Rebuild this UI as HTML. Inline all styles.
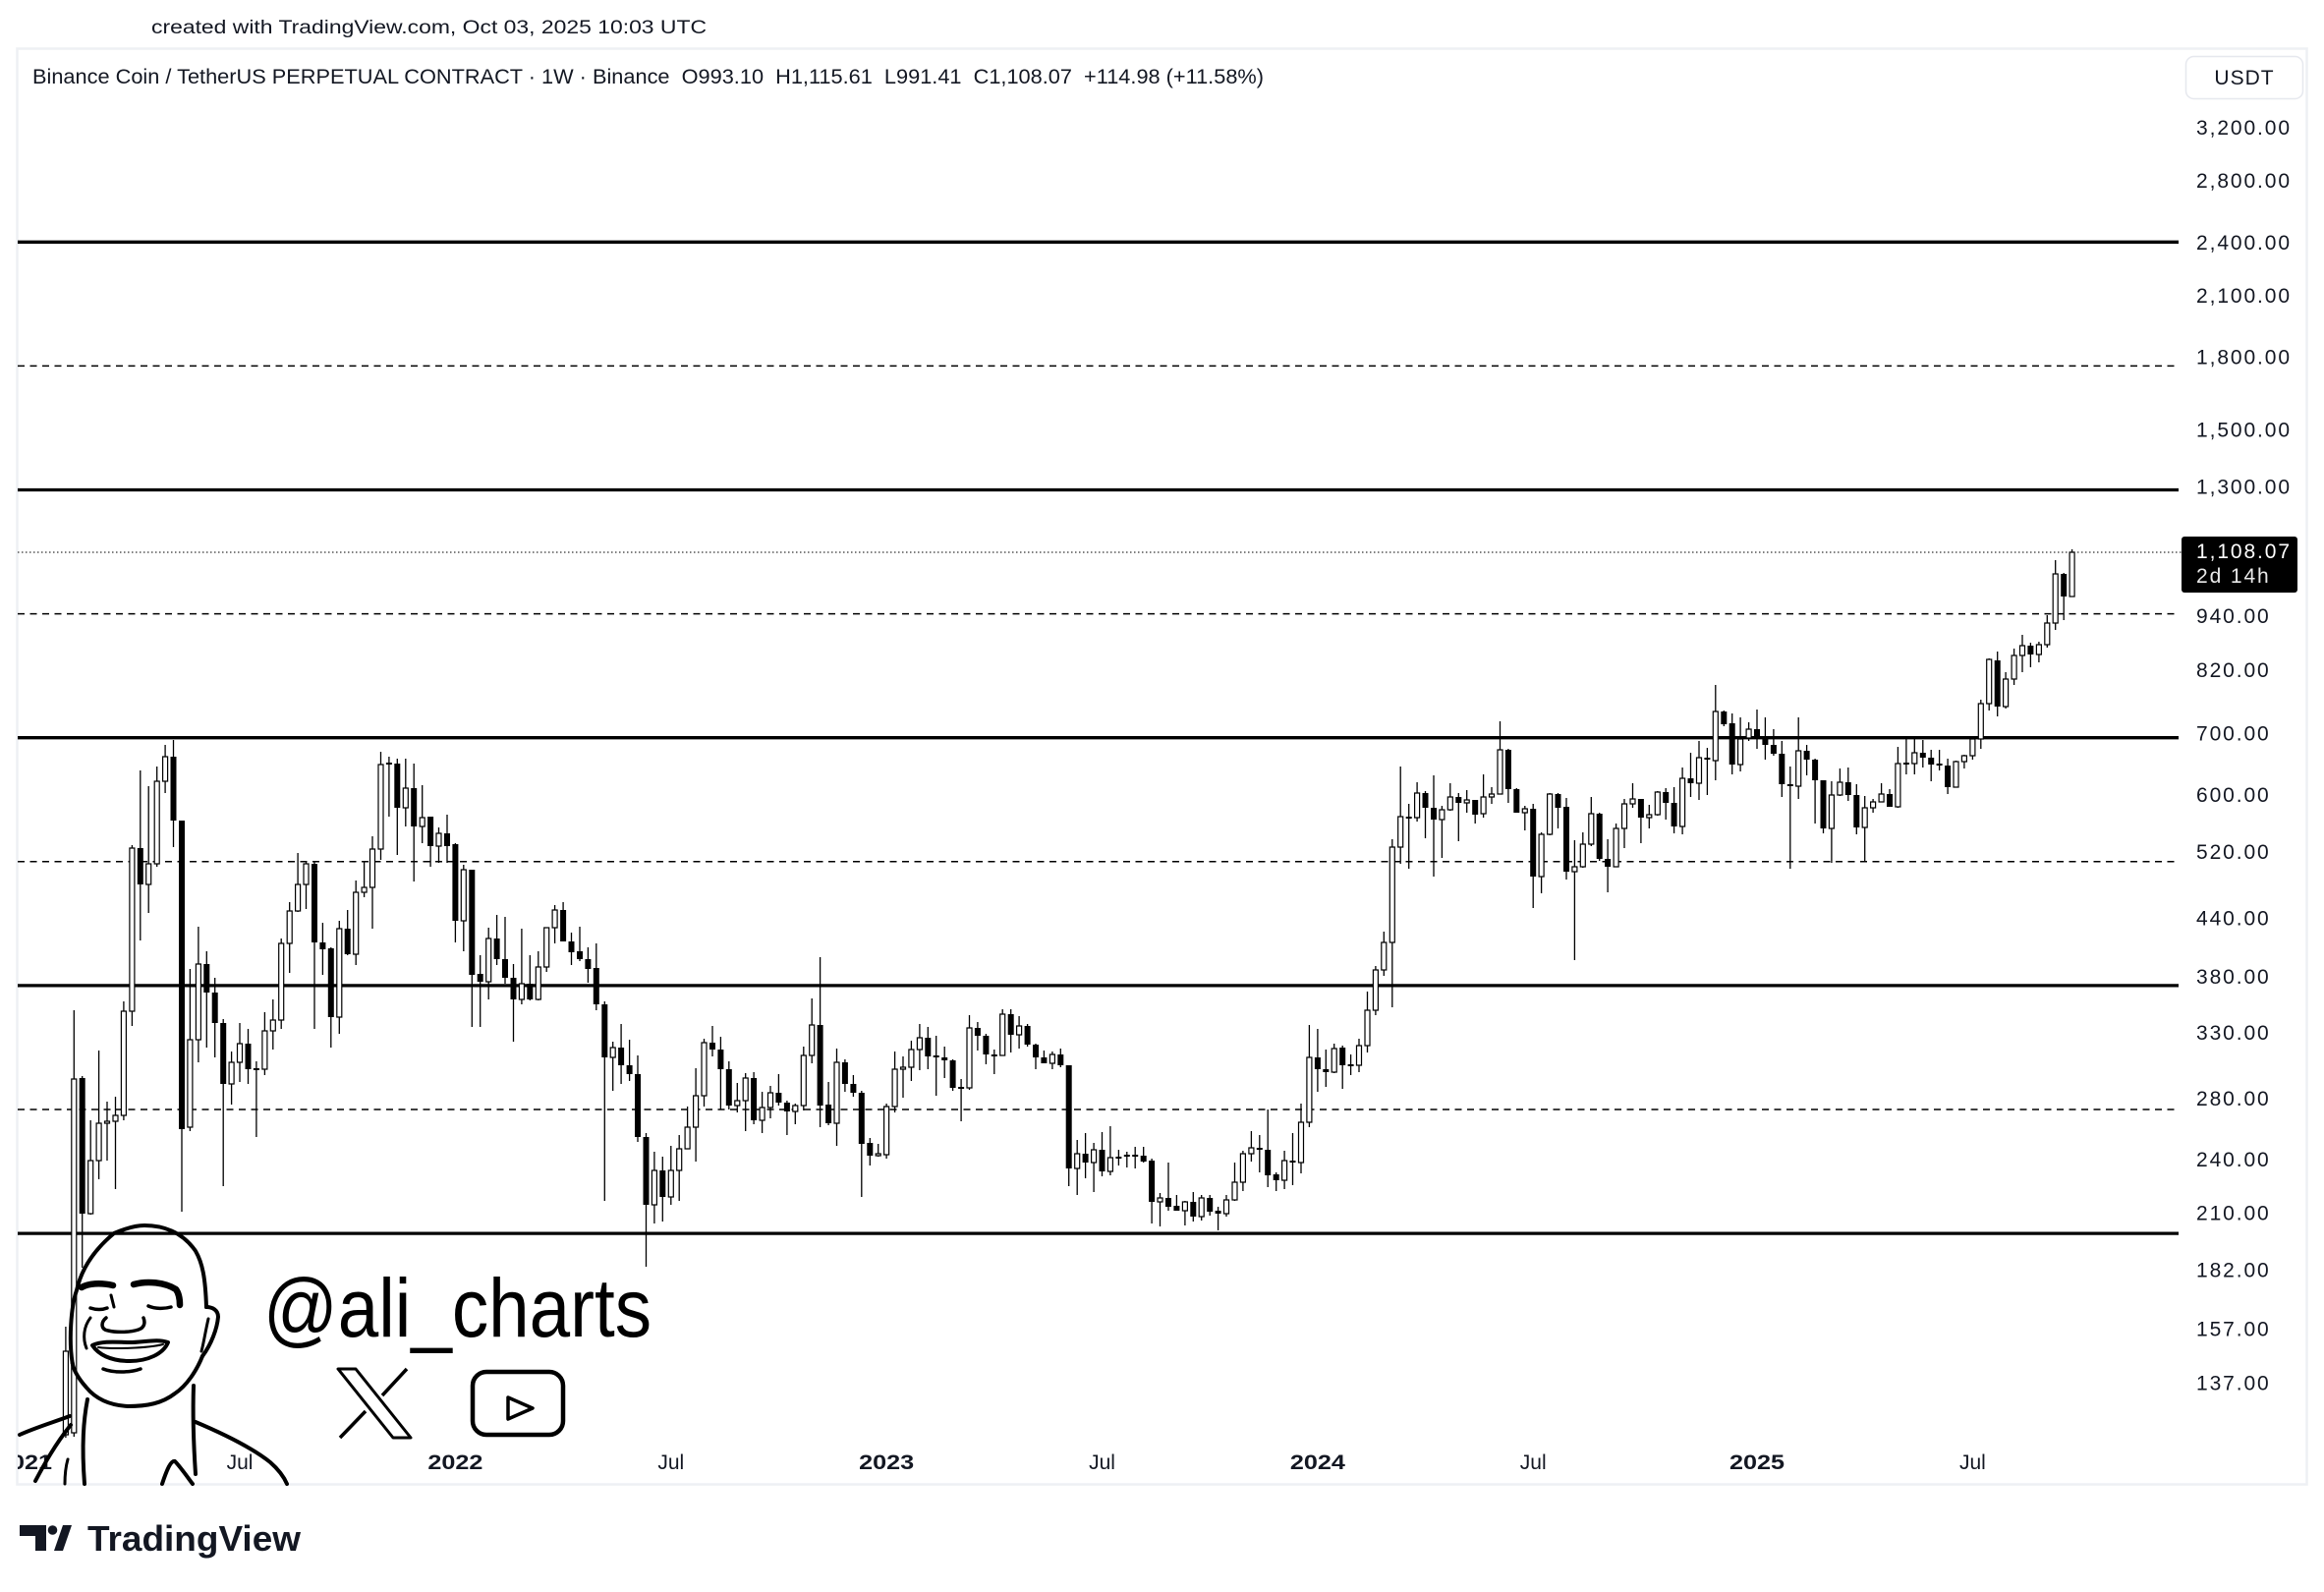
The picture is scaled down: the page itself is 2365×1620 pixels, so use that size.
<!DOCTYPE html>
<html><head><meta charset="utf-8"><style>
html,body{margin:0;padding:0;background:#fff;width:2365px;height:1620px;overflow:hidden}
svg{display:block}
text{font-family:"Liberation Sans",Arial,sans-serif;fill:#131722;white-space:pre}
.ax{font-size:21px;letter-spacing:1.9px}
</style></head><body>
<svg width="2365" height="1620" viewBox="0 0 2365 1620" xmlns="http://www.w3.org/2000/svg">
<rect x="0" y="0" width="2365" height="1620" fill="#fff"/>
<text x="154" y="34" font-size="19" textLength="565" lengthAdjust="spacingAndGlyphs">created with TradingView.com, Oct 03, 2025 10:03 UTC</text>
<rect x="17.5" y="49.5" width="2330" height="1461" fill="none" stroke="#eef0f4" stroke-width="2.5"/>
<text x="33" y="85" font-size="21" textLength="1253" lengthAdjust="spacingAndGlyphs">Binance Coin / TetherUS PERPETUAL CONTRACT · 1W · Binance  O993.10  H1,115.61  L991.41  C1,108.07  +114.98 (+11.58%)</text>
<rect x="2224.5" y="57.5" width="119" height="43" rx="8" fill="#fff" stroke="#e6e8ee" stroke-width="1.5"/>
<text x="2284" y="86" font-size="21" text-anchor="middle" letter-spacing="1">USDT</text>

<g stroke="#000" fill="none">
<path d="M18 246.3H2217M18 498.5H2217M18 750.7H2217M18 1002.9H2217M18 1255.1H2217" stroke-width="3.3"/>
<path d="M18 372.4H2217M18 624.6H2217M18 876.8H2217M18 1129H2217" stroke-width="1.5" stroke-dasharray="7 5.5"/>
<path d="M18 562H2220" stroke-width="1.2" stroke="#333" stroke-dasharray="1.5 2.5"/>
</g>

<g class="ax">
<text x="2235" y="137">3,200.00</text>
<text x="2235" y="191">2,800.00</text>
<text x="2235" y="254">2,400.00</text>
<text x="2235" y="308">2,100.00</text>
<text x="2235" y="370.5">1,800.00</text>
<text x="2235" y="444.5">1,500.00</text>
<text x="2235" y="502.5">1,300.00</text>
<text x="2235" y="634">940.00</text>
<text x="2235" y="689">820.00</text>
<text x="2235" y="753.5">700.00</text>
<text x="2235" y="816">600.00</text>
<text x="2235" y="874">520.00</text>
<text x="2235" y="941.5">440.00</text>
<text x="2235" y="1001">380.00</text>
<text x="2235" y="1058">330.00</text>
<text x="2235" y="1125">280.00</text>
<text x="2235" y="1187">240.00</text>
<text x="2235" y="1241.5">210.00</text>
<text x="2235" y="1299.5">182.00</text>
<text x="2235" y="1359.5">157.00</text>
<text x="2235" y="1414.5">137.00</text>
</g>
<rect x="2220" y="546" width="118" height="57" rx="3" fill="#000"/>
<text class="ax" x="2235" y="568" style="fill:#fff">1,108.07</text>
<text class="ax" x="2235" y="593" style="fill:#e8e8e8">2d 14h</text>

<!-- wicks -->
<path fill="none" stroke="#000" stroke-width="1.3" d="M66.9 1350V1463M75.3 1028V1462M83.7 1095V1290M92.2 1140V1236M100.6 1069V1200M109 1121V1181M117.5 1116V1210M125.9 1019V1140M134.4 860V1044M142.8 784V957M151.2 800V929M159.7 780V882M168.1 758V807M176.5 753V862M185 835V1233M193.4 986V1151M201.9 943V1081M210.3 968V1066M218.7 995V1076M227.2 1037V1207M235.6 1070V1124M244 1041V1101M252.5 1047V1103M260.9 1080V1157M269.4 1030V1094M277.8 1017V1068M286.2 955V1047M294.7 918V990M303.1 868V928M311.5 876V925M320 876V1047M328.4 939V992M336.8 964V1066M345.3 937V1052M353.7 926V972M362.2 896V982M370.6 877V913M379 851V945M387.5 765V875M395.9 770V831M404.3 772V870M412.8 772V841M421.2 777V897M429.7 799V858M438.1 831V882M446.5 842V878M455 829V878M463.4 858V959M471.8 880V968M480.3 885V1045M488.7 972V1045M497.2 944V1017M505.6 931V982M514 933V1001M522.5 981V1060M530.9 945V1022M539.3 972V1018M547.8 968V1018M556.2 944V989M564.6 921V960M573.1 918V958M581.5 949V982M590 943V978M598.4 964V1000M606.8 960V1028M615.3 1019V1222M623.7 1060V1110M632.1 1042V1103M640.6 1058V1100M649 1074V1162M657.5 1153V1289M665.9 1172V1245M674.3 1177V1243M682.8 1166V1226M691.2 1155V1222M699.6 1126V1169M708.1 1087V1182M716.5 1057V1126M725 1044V1075M733.4 1055V1129M741.8 1080V1129M750.3 1102V1132M758.7 1092V1151M767.1 1091V1144M775.6 1111V1153M784 1105V1138M792.4 1093V1125M800.9 1120V1155M809.3 1123V1144M817.8 1065V1130M826.2 1016V1082M834.6 974V1147M843.1 1101V1145M851.5 1067V1166M859.9 1078V1111M868.4 1094V1116M876.8 1110V1218M885.3 1158V1186M893.7 1164V1177M902.1 1123V1179M910.6 1070V1132M919 1075V1117M927.4 1059V1100M935.9 1042V1089M944.3 1045V1088M952.7 1054V1115M961.2 1065V1097M969.6 1078V1110M978.1 1098V1141M986.5 1033V1109M994.9 1040V1069M1003.4 1052V1083M1011.8 1068V1093M1020.2 1027V1074M1028.7 1027V1071M1037.1 1034V1067M1045.6 1042V1065M1054 1062V1088M1062.4 1069V1082M1070.9 1070V1088M1079.3 1067V1086M1087.7 1084V1207M1096.2 1160V1216M1104.6 1153V1199M1113.1 1163V1213M1121.5 1152V1197M1129.9 1146V1196M1138.4 1170V1186M1146.8 1172V1188M1155.2 1167V1189M1163.7 1167V1183M1172.1 1179V1245M1180.5 1214V1248M1189 1183V1232M1197.4 1216V1232M1205.9 1222V1247M1214.3 1213V1243M1222.7 1216V1242M1231.2 1216V1237M1239.6 1228V1252M1248 1216V1238M1256.5 1183V1222M1264.9 1171V1212M1273.4 1151V1182M1281.8 1155V1193M1290.2 1129V1208M1298.7 1193V1212M1307.1 1171V1210M1315.5 1153V1206M1324 1123V1194M1332.4 1043V1147M1340.9 1047V1111M1349.3 1068V1106M1357.7 1062V1092M1366.2 1064V1108M1374.6 1073V1094M1383 1057V1091M1391.5 1009V1071M1399.9 983V1033M1408.3 948V993M1416.8 854V1025M1425.2 780V879M1433.7 818V884M1442.1 796V836M1450.5 805V853M1459 789V892M1467.4 820V873M1475.8 797V825M1484.3 807V856M1492.7 804V827M1501.2 814V838M1509.6 788V832M1518 801V818M1526.5 734V808M1534.9 762V817M1543.3 802V827M1551.8 820V845M1560.2 818V924M1568.6 847V909M1577.1 807V850M1585.5 807V843M1594 812V895M1602.4 855V977M1610.8 847V883M1619.3 811V861M1627.7 827V876M1636.1 854V908M1644.6 838V882M1653 813V863M1661.5 797V822M1669.9 813V858M1678.3 819V843M1686.8 805V830M1695.2 802V834M1703.6 801V848M1712.1 781V849M1720.5 766V811M1729 754V814M1737.4 761V809M1745.8 697V794M1754.3 723V739M1762.7 726V788M1771.1 730V785M1779.6 735V754M1788 722V762M1796.4 730V773M1804.9 742V769M1813.3 754V811M1821.8 780V884M1830.2 730V813M1838.6 758V789M1847.1 772V838M1855.5 794V848M1863.9 795V878M1872.4 782V810M1880.8 781V815M1889.3 798V849M1897.7 810V876M1906.1 813V827M1914.6 797V816M1923 803V821M1931.4 760V822M1939.9 752V788M1948.3 752V788M1956.8 753V781M1965.2 763V795M1973.6 763V784M1982.1 772V808M1990.5 774V801M1998.9 768V782M2007.4 751V773M2015.8 712V762M2024.2 670V723M2032.7 663V729M2041.1 684V721M2049.6 660V697M2058 646V684M2066.4 654V679M2074.9 653V674M2083.3 626V659M2091.7 570V641M2100.2 583V631M2108.6 559V607"/>

<!-- black bodies -->
<path fill="#000" d="M80.7 1097h6v138h-6zM139.8 863h6v37h-6zM173.5 770h6v65h-6zM182 835h6v314h-6zM207.3 981h6v29h-6zM215.7 1010h6v31h-6zM224.2 1041h6v62h-6zM249.5 1062h6v26h-6zM257.9 1087h6v2h-6zM317 879h6v80h-6zM325.4 959h6v7h-6zM333.8 965h6v70h-6zM350.7 945h6v26h-6zM392.9 776h6v2h-6zM401.3 777h6v45h-6zM418.2 802h6v39h-6zM435.1 831h6v30h-6zM452 848h6v13h-6zM460.4 859h6v78h-6zM477.3 885h6v107h-6zM485.7 991h6v8h-6zM502.6 955h6v21h-6zM511 976h6v19h-6zM519.5 995h6v22h-6zM536.3 1001h6v16h-6zM570.1 926h6v32h-6zM578.5 958h6v11h-6zM587 968h6v8h-6zM595.4 976h6v10h-6zM603.8 985h6v37h-6zM612.3 1022h6v54h-6zM629.1 1066h6v18h-6zM637.6 1084h6v9h-6zM646 1093h6v64h-6zM654.5 1157h6v69h-6zM671.3 1191h6v27h-6zM722 1061h6v7h-6zM730.4 1068h6v20h-6zM738.8 1088h6v37h-6zM764.1 1097h6v43h-6zM789.4 1112h6v10h-6zM797.9 1122h6v9h-6zM831.6 1043h6v82h-6zM840.1 1124h6v19h-6zM856.9 1081h6v22h-6zM865.4 1103h6v9h-6zM873.8 1112h6v52h-6zM882.3 1163h6v13h-6zM941.3 1056h6v19h-6zM949.7 1074h6v2h-6zM958.2 1076h6v3h-6zM966.6 1079h6v28h-6zM975.1 1106h6v2h-6zM991.9 1046h6v8h-6zM1000.4 1054h6v19h-6zM1008.8 1073h6v2h-6zM1025.7 1032h6v21h-6zM1042.6 1044h6v19h-6zM1051 1063h6v13h-6zM1059.4 1076h6v6h-6zM1076.3 1073h6v11h-6zM1084.7 1084h6v105h-6zM1101.6 1174h6v9h-6zM1118.5 1170h6v22h-6zM1135.4 1177h6v2h-6zM1143.8 1175h6v2h-6zM1152.2 1175h6v2h-6zM1160.7 1176h6v6h-6zM1169.1 1181h6v42h-6zM1186 1219h6v9h-6zM1194.4 1227h6v5h-6zM1211.3 1223h6v15h-6zM1228.2 1219h6v14h-6zM1236.6 1232h6v3h-6zM1278.8 1168h6v2h-6zM1287.2 1170h6v26h-6zM1295.7 1195h6v6h-6zM1312.5 1181h6v2h-6zM1337.9 1076h6v12h-6zM1346.3 1088h6v3h-6zM1363.2 1066h6v18h-6zM1371.6 1083h6v2h-6zM1430.7 831h6v2h-6zM1447.5 807h6v15h-6zM1456 822h6v12h-6zM1481.3 811h6v6h-6zM1498.2 814h6v15h-6zM1531.9 763h6v40h-6zM1540.3 803h6v24h-6zM1557.2 823h6v69h-6zM1582.5 808h6v14h-6zM1591 821h6v66h-6zM1624.7 828h6v46h-6zM1633.1 874h6v8h-6zM1666.9 813h6v19h-6zM1692.2 806h6v11h-6zM1700.6 817h6v24h-6zM1717.5 792h6v5h-6zM1734.4 771h6v2h-6zM1751.3 724h6v13h-6zM1759.7 736h6v42h-6zM1785 742h6v10h-6zM1793.4 751h6v7h-6zM1801.9 758h6v9h-6zM1810.3 767h6v31h-6zM1818.8 798h6v2h-6zM1835.6 764h6v9h-6zM1844.1 773h6v21h-6zM1852.5 794h6v49h-6zM1877.8 796h6v13h-6zM1886.3 809h6v33h-6zM1920 808h6v13h-6zM1936.9 776h6v2h-6zM1953.8 766h6v5h-6zM1962.2 771h6v7h-6zM1970.6 777h6v2h-6zM1979.1 779h6v22h-6zM2029.7 672h6v47h-6zM2063.4 657h6v9h-6zM2097.2 584h6v23h-6z"/>

<!-- white bodies -->
<path fill="#fff" stroke="#000" stroke-width="1.2" d="M64.4 1375h5v85h-5zM72.8 1098h5v360h-5zM89.7 1181h5v54h-5zM98.1 1143h5v38h-5zM106.5 1141h5v2h-5zM115 1135h5v6h-5zM123.4 1029h5v106h-5zM131.9 863h5v166h-5zM148.7 879h5v21h-5zM157.2 795h5v84h-5zM165.6 770h5v25h-5zM190.9 1058h5v89h-5zM199.4 981h5v77h-5zM233.1 1081h5v22h-5zM241.5 1062h5v19h-5zM266.9 1049h5v39h-5zM275.3 1038h5v11h-5zM283.7 960h5v78h-5zM292.2 927h5v33h-5zM300.6 900h5v27h-5zM309 879h5v21h-5zM342.8 945h5v90h-5zM359.7 908h5v63h-5zM368.1 903h5v5h-5zM376.5 864h5v39h-5zM385 778h5v86h-5zM410.3 802h5v20h-5zM427.2 832h5v9h-5zM444 848h5v13h-5zM469.3 885h5v52h-5zM494.7 955h5v44h-5zM528.4 1001h5v16h-5zM545.3 984h5v33h-5zM553.7 944h5v40h-5zM562.1 926h5v18h-5zM621.2 1066h5v10h-5zM663.4 1191h5v35h-5zM680.3 1191h5v27h-5zM688.7 1169h5v22h-5zM697.1 1147h5v22h-5zM705.6 1115h5v32h-5zM714 1061h5v54h-5zM747.8 1120h5v5h-5zM756.2 1097h5v23h-5zM773.1 1127h5v13h-5zM781.5 1112h5v15h-5zM806.8 1125h5v6h-5zM815.3 1074h5v51h-5zM823.7 1043h5v31h-5zM849 1081h5v62h-5zM891.2 1174h5v2h-5zM899.6 1126h5v49h-5zM908.1 1088h5v38h-5zM916.5 1086h5v2h-5zM924.9 1068h5v18h-5zM933.4 1056h5v12h-5zM984 1046h5v61h-5zM1017.7 1032h5v42h-5zM1034.6 1044h5v9h-5zM1068.4 1073h5v9h-5zM1093.7 1174h5v15h-5zM1110.6 1170h5v13h-5zM1127.4 1178h5v14h-5zM1178 1219h5v4h-5zM1203.4 1223h5v9h-5zM1220.2 1219h5v19h-5zM1245.5 1221h5v14h-5zM1254 1203h5v18h-5zM1262.4 1174h5v29h-5zM1270.9 1168h5v6h-5zM1304.6 1181h5v20h-5zM1321.5 1142h5v41h-5zM1329.9 1076h5v66h-5zM1355.2 1067h5v24h-5zM1380.5 1064h5v20h-5zM1389 1028h5v36h-5zM1397.4 987h5v41h-5zM1405.8 959h5v28h-5zM1414.3 862h5v97h-5zM1422.7 831h5v31h-5zM1439.6 807h5v25h-5zM1464.9 824h5v10h-5zM1473.3 811h5v13h-5zM1490.2 814h5v3h-5zM1507.1 811h5v17h-5zM1515.5 808h5v3h-5zM1524 763h5v45h-5zM1549.3 823h5v4h-5zM1566.1 849h5v43h-5zM1574.6 808h5v41h-5zM1599.9 882h5v5h-5zM1608.3 859h5v23h-5zM1616.8 828h5v31h-5zM1642.1 843h5v39h-5zM1650.5 818h5v25h-5zM1659 813h5v5h-5zM1675.8 829h5v3h-5zM1684.3 806h5v23h-5zM1709.6 792h5v49h-5zM1726.5 771h5v26h-5zM1743.3 724h5v50h-5zM1768.6 752h5v26h-5zM1777.1 742h5v9h-5zM1827.7 764h5v36h-5zM1861.4 809h5v34h-5zM1869.9 796h5v13h-5zM1895.2 822h5v20h-5zM1903.6 816h5v6h-5zM1912.1 808h5v8h-5zM1928.9 777h5v44h-5zM1945.8 766h5v11h-5zM1988 775h5v26h-5zM1996.4 769h5v6h-5zM2004.9 752h5v17h-5zM2013.3 716h5v36h-5zM2021.7 671h5v45h-5zM2038.6 691h5v28h-5zM2047.1 667h5v24h-5zM2055.5 657h5v10h-5zM2072.4 656h5v10h-5zM2080.8 634h5v22h-5zM2089.2 584h5v50h-5zM2106.1 562h5v45h-5z"/>

<!-- time axis -->
<clipPath id="ca"><rect x="18" y="1460" width="2200" height="50"/></clipPath>
<g clip-path="url(#ca)" font-size="21">
<text x="25" y="1495" text-anchor="middle" font-weight="bold" textLength="56" lengthAdjust="spacingAndGlyphs">2021</text>
<text x="244" y="1495" text-anchor="middle">Jul</text>
<text x="463.4" y="1495" text-anchor="middle" font-weight="bold" textLength="56" lengthAdjust="spacingAndGlyphs">2022</text>
<text x="682.8" y="1495" text-anchor="middle">Jul</text>
<text x="902.1" y="1495" text-anchor="middle" font-weight="bold" textLength="56" lengthAdjust="spacingAndGlyphs">2023</text>
<text x="1121.5" y="1495" text-anchor="middle">Jul</text>
<text x="1340.9" y="1495" text-anchor="middle" font-weight="bold" textLength="56" lengthAdjust="spacingAndGlyphs">2024</text>
<text x="1560.2" y="1495" text-anchor="middle">Jul</text>
<text x="1788" y="1495" text-anchor="middle" font-weight="bold" textLength="56" lengthAdjust="spacingAndGlyphs">2025</text>
<text x="2007.4" y="1495" text-anchor="middle">Jul</text>
</g>

<!-- avatar -->
<g fill="none" stroke="#000" stroke-width="4" stroke-linecap="round" stroke-linejoin="round">
<path d="M73.7 1387 C70 1365 72 1330 78 1313 C82 1295 92 1275 116 1255 C130 1249 140 1247 147 1247 C165 1247 185 1253 199 1273 C206 1285 209 1300 210 1330"/>
<path d="M210 1330 C216 1330 222 1333 222 1340 C221 1352 215 1368 206 1380"/>
<path d="M212 1342 C209 1355 207 1368 205 1375" stroke-width="3"/>
<path d="M206 1380 C200 1395 190 1410 178 1418 C165 1428 150 1431 130 1431 C112 1430 98 1424 88 1412 C80 1403 75 1395 73.7 1387"/>
<path d="M83 1310 C90 1306 102 1305 115 1308" stroke-width="6.5"/>
<path d="M136 1307 C150 1303 168 1305 179 1312 C182 1316 183 1322 183 1328" stroke-width="6.5"/>
<path d="M92 1331 C98 1333 104 1333 109 1331" stroke-width="3.5"/>
<path d="M151 1329 C158 1332 167 1332 174 1330" stroke-width="3.5"/>
<path d="M113 1318 L116 1330" stroke-width="3"/>
<path d="M108 1341 C102 1346 103 1353 110 1354 C118 1356 132 1356 141 1353 C147 1351 148 1346 146 1341" stroke-width="3.5"/>
<path d="M92 1341 C85 1350 84 1362 88 1372" stroke-width="3"/>
<path d="M94 1369 C105 1364 120 1366 132 1366 C146 1366 160 1362 171 1366 C166 1378 150 1385 132 1385 C112 1385 100 1378 94 1369 Z" fill="#fff"/>
<path d="M100 1371 C115 1373 150 1372 166 1368" stroke-width="2"/>
<path d="M105 1393 C115 1397 132 1397 143 1393" stroke-width="3.5"/>
<path d="M89 1424 C85 1445 83 1470 86 1510"/>
<path d="M197 1410 C196 1440 197 1470 199 1500"/>
<path d="M20 1460 C35 1453 55 1447 71 1441"/>
<path d="M36 1507 C45 1490 56 1470 72 1450"/>
<path d="M199 1447 C225 1458 255 1472 275 1488 C283 1495 289 1503 292 1510"/>
<path d="M165 1510 C170 1495 174 1486 178 1487 C183 1492 190 1502 196 1510"/>
<path d="M66 1510 C66 1500 67 1492 69 1485" stroke-width="3"/>
</g>
<text x="268" y="1360" font-size="84" textLength="395" lengthAdjust="spacingAndGlyphs" style="fill:#000">@ali_charts</text>
<g fill="none" stroke="#000" stroke-linejoin="round">
<polygon points="344,1393 362,1393 418,1463 400,1463" stroke-width="3"/>
<path d="M414 1393 L389 1420 M372 1436 L346 1463" stroke-width="3.5"/>
<rect x="481" y="1396" width="92" height="64" rx="14" stroke-width="4.5"/>
<polygon points="517,1422 542,1433 517,1444" stroke-width="3.5"/>
</g>

<!-- TradingView logo -->
<g fill="#131722">
<rect x="20" y="1552" width="27" height="11"/>
<rect x="36" y="1552" width="11" height="26"/>
<circle cx="53.5" cy="1557" r="4.8"/>
<polygon points="55,1578 64,1552 73,1552 64,1578"/>
</g>
<text x="89" y="1578" font-size="36" font-weight="bold" textLength="217" lengthAdjust="spacingAndGlyphs">TradingView</text>
</svg>
</body></html>
